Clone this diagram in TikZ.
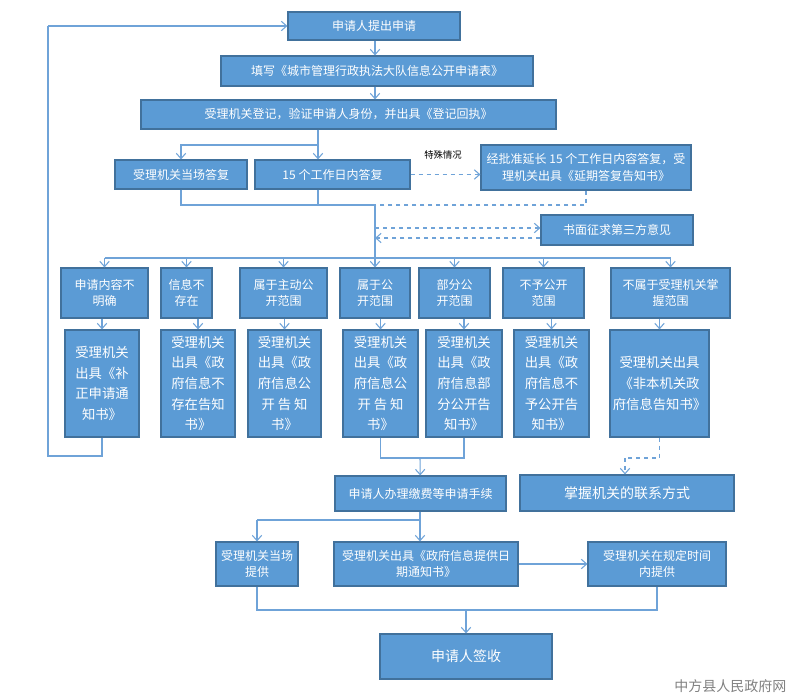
\documentclass[tikz,border=0pt]{standalone}
\usepackage{fontspec}
\setmainfont{Noto Sans CJK SC}
\usetikzlibrary{arrows.meta}
\definecolor{boxfill}{HTML}{5B9BD5}
\definecolor{boxline}{HTML}{41719C}
\definecolor{conn}{HTML}{6FA3D8}
\tikzset{%
    box/.style={rectangle,draw=boxline,fill=boxfill,line width=0.8pt,text=white,font=\fontsize{9}{12.5}\selectfont,align=center,inner sep=2pt},
    tall/.style={font=\fontsize{10}{15.5}\selectfont},
    lin/.style={draw=conn,line width=0.8pt},
    arr/.style={draw=conn,line width=0.8pt,-{Straight Barb[length=4pt,width=7pt]}},
    darr/.style={draw=conn,line width=0.8pt,dashed,-{Straight Barb[length=4pt,width=7pt]}},
    dlin/.style={draw=conn,line width=0.8pt,dashed},
}
\newcommand{\bx}[7][]{\node[box,#1,minimum width=#5*0.75pt-#3*0.75pt,minimum height=#6*0.75pt-#4*0.75pt] (#2) at ({(#3+#5)/2},{(#4+#6)/2}) {#7};}
\begin{document}
\begin{tikzpicture}[x=0.75pt,y=-0.75pt]
    \useasboundingbox (0,0) rectangle (793,698);
    \bx{apply}{288}{12}{460}{40}{申请人提出申请}
    \bx{fill}{221}{56}{533}{86}{填写《城市管理行政执法大队信息公开申请表》}
    \bx{reg}{141}{100}{556}{129}{受理机关登记，验证申请人身份，并出具《登记回执》}
    \bx{onsite}{115}{160}{247}{189}{受理机关当场答复}
    \bx{days}{255}{160}{410}{189}{15 个工作日内答复}
    \bx{ext}{481}{145}{691}{190}{经批准延长 15 个工作日内容答复，受\\理机关出具《延期答复告知书》}
    \bx{third}{541}{215}{693}{245}{书面征求第三方意见}
    % first row of cases
    \bx{ca}{61}{268}{148}{318}{申请内容不\\明确}
    \bx{cb}{161}{268}{212}{318}{信息不\\存在}
    \bx{cc}{240}{268}{327}{318}{属于主动公\\开范围}
    \bx{cd}{340}{268}{410}{318}{属于公\\开范围}
    \bx{ce}{419}{268}{490}{318}{部分公\\开范围}
    \bx{cf}{503}{268}{584}{318}{不予公开\\范围}
    \bx{cg}{611}{268}{730}{318}{不属于受理机关掌\\握范围}
    % second row of notices
    \bx[tall]{na}{65}{330}{139}{437}{受理机关\\出具《补\\正申请通\\知书》}
    \bx[tall]{nb}{161}{330}{235}{437}{受理机关\\出具《政\\府信息不\\存在告知\\书》}
    \bx[tall]{nc}{248}{330}{321}{437}{受理机关\\出具《政\\府信息公\\开\ 告\ 知\\书》}
    \bx[tall]{nd}{343}{330}{418}{437}{受理机关\\出具《政\\府信息公\\开\ 告\ 知\\书》}
    \bx[tall]{ne}{426}{330}{502}{437}{受理机关\\出具《政\\府信息部\\分公开告\\知书》}
    \bx[tall]{nf}{514}{330}{589}{437}{受理机关\\出具《政\\府信息不\\予公开告\\知书》}
    \bx[tall]{ng}{610}{330}{709}{437}{受理机关出具\\《非本机关政\\府信息告知书》}
    \bx{fees}{335}{476}{506}{511}{申请人办理缴费等申请手续}
    \bx{contact}{520}{475}{734}{511}{\fontsize{10.5}{12}\selectfont 掌握机关的联系方式}
    \bx{now}{216}{542}{298}{586}{受理机关当场\\提供}
    \bx{date}{334}{542}{518}{586}{受理机关出具《政府信息提供日\\期通知书》}
    \bx{later}{588}{542}{726}{586}{受理机关在规定时间\\内提供}
    \bx{sign}{380}{634}{552}{679}{\fontsize{10.5}{12}\selectfont 申请人签收}
    \node[text=gray,font=\fontsize{10.5}{12}\selectfont,anchor=east] (mark) at (791,686) {中方县人民政府网};
    \node[font=\fontsize{7}{8}\selectfont] (spec) at (443,155) {特殊情况};
    % junction points
    \coordinate (j0) at (375,48);
    \coordinate (j1) at (318,145);
    \coordinate (j2) at (375,205);
    \coordinate (j3) at (375,258);
    \coordinate (j4) at (420,458);
    \coordinate (j5) at (420,520);
    \coordinate (j6) at (466,610);
    % connectors
    \draw[arr] (apply.south -| j0) -- (fill.north -| j0);
    \draw[arr] (fill.south -| j0) -- (reg.north -| j0);
    \draw[lin] (reg.south -| j1) -- (j1);
    \draw[arr] (j1) -| (onsite);
    \draw[arr] (j1) -- (j1 |- days.north);
    \draw[darr] (days.east) -- (days.east -| ext.west);
    \draw[lin] (onsite.south) |- (j2);
    \draw[lin] (j1 |- days.south) |- (j2);
    \draw[dlin] (ext.south) |- (j2);
    \draw[lin] (j2) -- (j3);
    \draw[darr] (375,228) -- (third.west |- 0,228);
    \draw[darr] (third.west |- 0,238) -- (375,238);
    \draw[lin] (ca.north |- j3) -- (cg.north |- j3);
    \foreach \c in {ca,cb,cc,cd,ce,cf,cg}
        \draw[arr] (\c.north |- j3) -- (\c);
    \foreach \c/\n in {ca/na,cb/nb,cc/nc,cd/nd,ce/ne,cf/nf,cg/ng}
        \draw[arr] (\c.south -| \n) -- (\n);
    \draw[lin] (na.south) -- (102,456) -- (48,456) -- (48,26) coordinate (back);
    \draw[arr] (back) -- (apply.west);
    \draw[lin] (nd.south) |- (j4) -| (ne.south);
    \draw[arr] (j4) -- (fees);
    \draw[dlin] (ng.south) -- (ng.south |- 0,458) -- (625,458);
    \draw[darr] (625,458) -- (contact.north -| 625,0);
    \draw[lin] (fees.south -| j5) -- (j5) -- (now.north |- j5);
    \draw[arr] (now.north |- j5) -- (now);
    \draw[arr] (j5) -- (j5 |- date.north);
    \draw[arr] (date) -- (later);
    \draw[lin] (now.south) |- (j6) -| (later.south);
    \draw[arr] (j6) -- (sign);
\end{tikzpicture}
\end{document}
